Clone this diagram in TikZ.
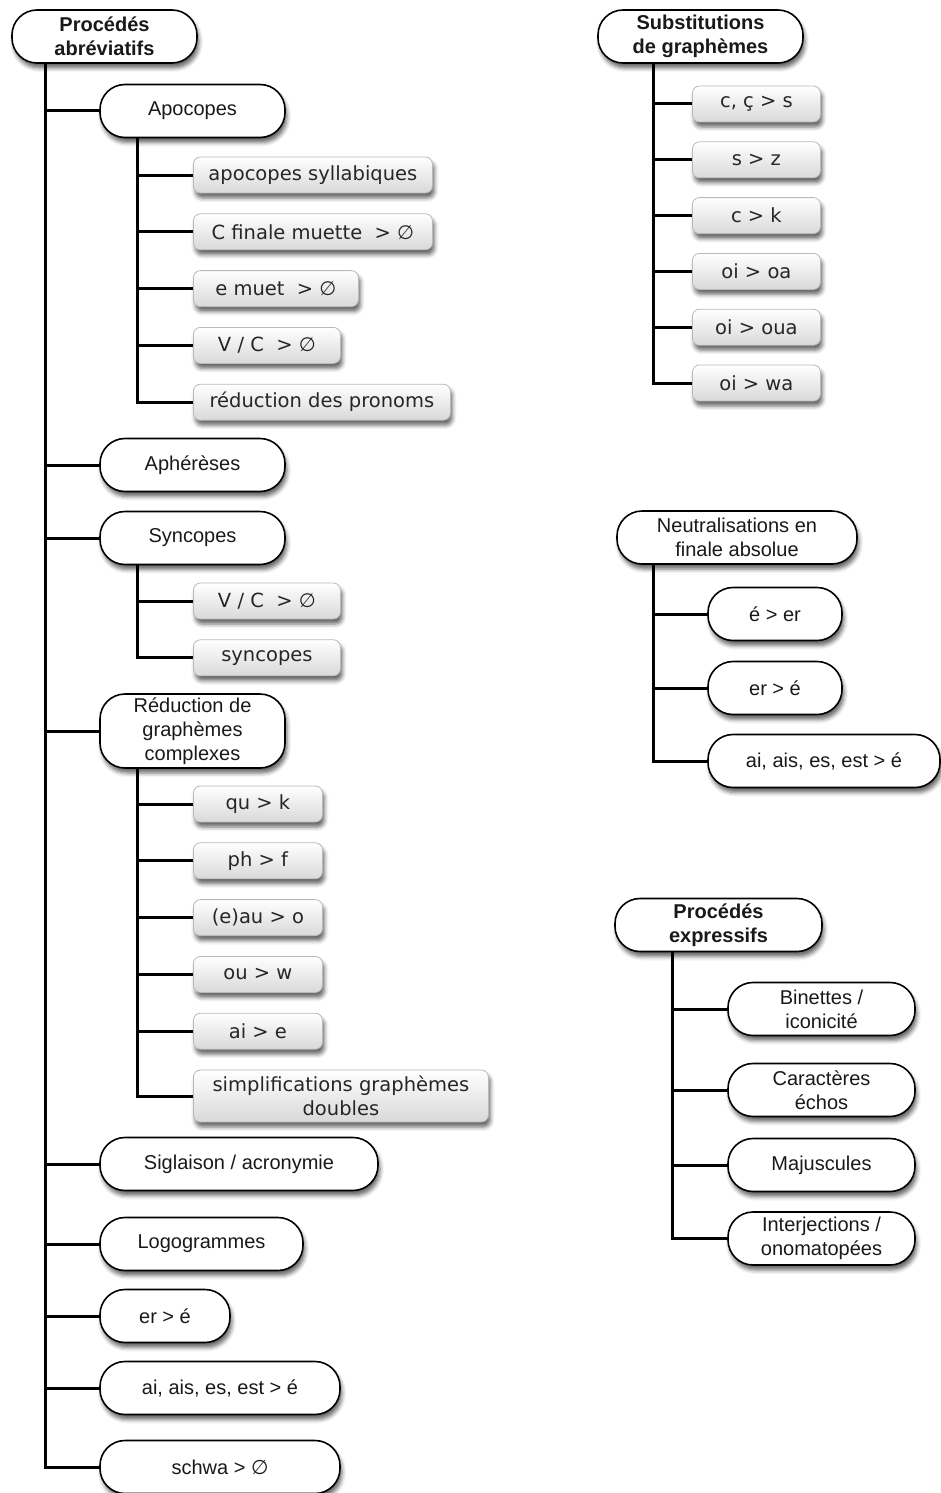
\documentclass[tikz,border=0pt]{standalone}
\usepackage{fontspec}
\setmainfont{Liberation Sans}
\newfontfamily\grayfont{DejaVu Sans}
\usepackage{tikz}
\usetikzlibrary{positioning,shadows.blur}

\begin{document}
\begin{tikzpicture}[
    x=1pt, y=-1pt,
    pill/.style={draw, line width=1.6pt, fill=white, rounded corners=25pt, minimum height=53pt, align=center, inner sep=2pt, text=black!90, font=\fontsize{20}{24}\selectfont, blur shadow={shadow xshift=2pt, shadow yshift=-5pt, shadow blur radius=4pt, shadow opacity=60}},
    head/.style={pill, font=\bfseries\fontsize{20}{24}\selectfont},
    gbox/.style={draw=gray!55, line width=.8pt, rounded corners=7pt, top color=white, bottom color=gray!30, minimum height=36pt, minimum width=129pt, inner xsep=8pt, inner ysep=2pt, align=center, text=black!85, font=\grayfont\fontsize{19.5}{24}\selectfont, blur shadow={shadow xshift=2pt, shadow yshift=-5pt, shadow blur radius=4pt, shadow opacity=60}},
    conn/.style={line width=3pt}
]
\useasboundingbox (0,0) rectangle (941,1493);

\node[head, minimum width=185pt] (abrev) at (104.5,36.5) {Procédés\\abréviatifs};
\node[pill, minimum width=185pt] (apoc) at (192.5,111) {Apocopes};
\node[gbox, minimum width=239pt, anchor=west] (apo1) at (193,175) {apocopes syllabiques};
\node[gbox, minimum width=239pt, below=20pt of apo1.south west, anchor=north west] (apo2) {C finale muette~~> ∅};
\node[gbox, minimum width=165pt, below=20pt of apo2.south west, anchor=north west] (apo3) {e muet~~> ∅};
\node[gbox, minimum width=147pt, below=20pt of apo3.south west, anchor=north west] (apo4) {V / C~~> ∅};
\node[gbox, minimum width=257pt, below=20pt of apo4.south west, anchor=north west] (apo5) {réduction des pronoms};
\node[pill, minimum width=185pt] (aphe) at (192.5,465) {Aphérèses};
\node[pill, minimum width=185pt] (sync) at (192.5,538) {Syncopes};
\node[gbox, minimum width=147pt, anchor=west] (syn1) at (193,601) {V / C~~> ∅};
\node[gbox, minimum width=147pt, below=20pt of syn1.south west, anchor=north west] (syn2) {syncopes};
\node[pill, minimum width=185pt, minimum height=74pt] (red) at (192.5,731) {Réduction de\\graphèmes\\complexes};
\node[gbox, anchor=west] (red1) at (193,804) {qu > k};
\node[gbox, below=20pt of red1.south west, anchor=north west] (red2) {ph > f};
\node[gbox, below=20pt of red2.south west, anchor=north west] (red3) {(e)au > o};
\node[gbox, below=20pt of red3.south west, anchor=north west] (red4) {ou > w};
\node[gbox, below=20pt of red4.south west, anchor=north west] (red5) {ai > e};
\node[gbox, minimum width=295pt, minimum height=52pt, below=20pt of red5.south west, anchor=north west] (red6) {simplifications graphèmes\\doubles};
\node[pill, minimum width=278pt] (sigl) at (239,1164) {Siglaison / acronymie};
\node[pill, minimum width=203pt] (logo) at (201.5,1244) {Logogrammes};
\node[pill, minimum width=130pt] (ere) at (165,1316) {er > é};
\node[pill, minimum width=240pt] (aie) at (220,1388) {ai, ais, es, est > é};
\node[pill, minimum width=240pt] (schwa) at (220,1467) {schwa > {\grayfont ∅}};

\node[head, minimum width=205pt] (subst) at (700.5,36.5) {Substitutions\\de graphèmes};
\node[gbox, minimum width=128pt, anchor=west] (sub1) at (692,104) {c, ç > s};
\node[gbox, minimum width=128pt, below=19pt of sub1.south west, anchor=north west] (sub2) {s > z};
\node[gbox, minimum width=128pt, below=19pt of sub2.south west, anchor=north west] (sub3) {c > k};
\node[gbox, minimum width=128pt, below=19pt of sub3.south west, anchor=north west] (sub4) {oi > oa};
\node[gbox, minimum width=128pt, below=19pt of sub4.south west, anchor=north west] (sub5) {oi > oua};
\node[gbox, minimum width=128pt, below=19pt of sub5.south west, anchor=north west] (sub6) {oi > wa};

\node[pill, minimum width=240pt] (neut) at (737,537.5) {Neutralisations en\\finale absolue};
\node[pill, minimum width=134pt] (neu1) at (775,614) {é > er};
\node[pill, minimum width=134pt] (neu2) at (775,688) {er > é};
\node[pill, minimum width=232pt] (neu3) at (824,761) {ai, ais, es, est > é};

\node[head, minimum width=207pt] (expr) at (718.5,925) {Procédés\\expressifs};
\node[pill, minimum width=187pt] (exp1) at (821.5,1009) {Binettes /\\iconicité};
\node[pill, minimum width=187pt] (exp2) at (821.5,1090) {Caractères\\échos};
\node[pill, minimum width=187pt] (exp3) at (821.5,1165) {Majuscules};
\node[pill, minimum width=187pt] (exp4) at (821.5,1238.5) {Interjections /\\onomatopées};

\foreach \n in {apoc,aphe,sync,red,sigl,logo,ere,aie,schwa}
  \draw[conn] ([xshift=-59.5pt]abrev.south) |- (\n.west);
\foreach \n in {apo1,apo2,apo3,apo4,apo5}
  \draw[conn] ([xshift=-55.5pt]apoc.south) |- (\n.west);
\foreach \n in {syn1,syn2}
  \draw[conn] ([xshift=-55.5pt]sync.south) |- (\n.west);
\foreach \n in {red1,red2,red3,red4,red5,red6}
  \draw[conn] ([xshift=-55.5pt]red.south) |- (\n.west);
\foreach \n in {sub1,sub2,sub3,sub4,sub5,sub6}
  \draw[conn] ([xshift=-47.5pt]subst.south) |- (\n.west);
\foreach \n in {neu1,neu2,neu3}
  \draw[conn] ([xshift=-84pt]neut.south) |- (\n.west);
\foreach \n in {exp1,exp2,exp3,exp4}
  \draw[conn] ([xshift=-46.5pt]expr.south) |- (\n.west);
\end{tikzpicture}
\end{document}
